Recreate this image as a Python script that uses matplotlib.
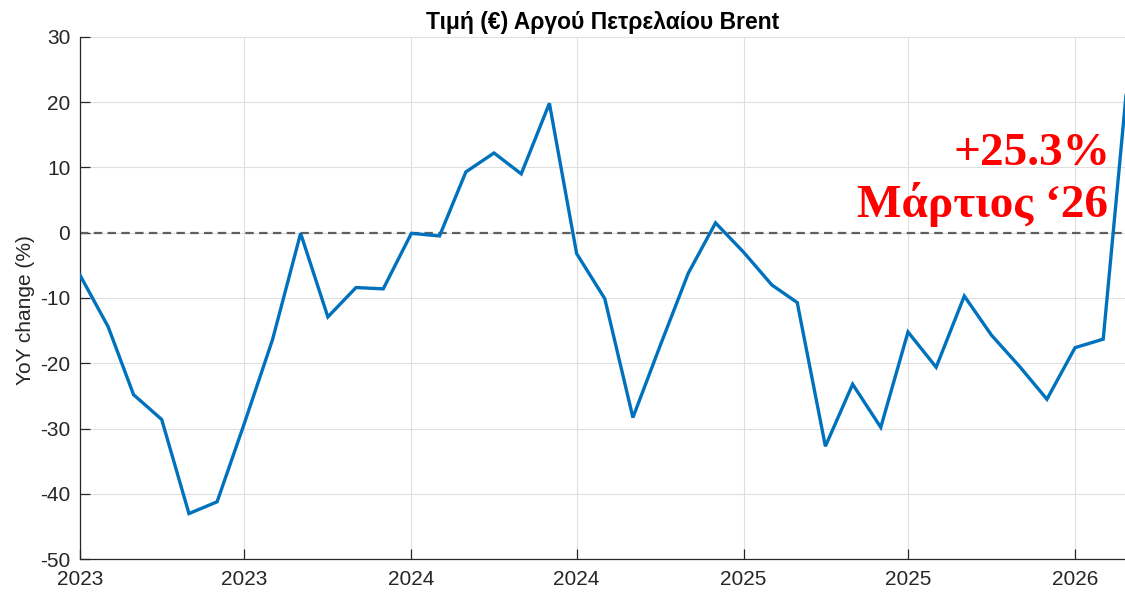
import matplotlib
matplotlib.use("Agg")
import matplotlib.pyplot as plt
import matplotlib.dates as mdates
import pandas as pd
import numpy as np

# ---- data ----
months = pd.date_range("2023-01-01", "2026-03-01", freq="MS")
yoy = [
    -6.5, -14.4, -24.8, -28.6, -43.0, -41.2, -29.2, -16.4, -0.1, -12.9, -8.4, -8.6,   # 2023
    -0.1, -0.5, 9.3, 12.2, 9.0, 19.8, -3.2, -10.1, -28.3, -17.3, -6.2, 1.5,          # 2024
    -3.0, -8.0, -10.7, -32.7, -23.2, -29.8, -15.2, -20.6, -9.7, -15.7, -20.5, -25.5, # 2025
    -17.6, -16.3, 25.3,                                                               # 2026
]
title = "Τιμή (€) Αργού Πετρελαίου Brent"
ylabel = "YoY change (%)"
note_value = "+25.3%"
note_month = "Μάρτιος \u201826"
yticks = list(range(-50, 31, 10))
xticks = pd.to_datetime(["2023-01-01", "2023-07-01", "2024-01-01", "2024-07-01",
                         "2025-01-01", "2025-07-01", "2026-01-01"])

plt.rcParams["font.family"] = ["Liberation Sans", "DejaVu Sans"]
plt.rcParams["axes.unicode_minus"] = False

fig = plt.figure(figsize=(11.25, 5.93), dpi=100)
ax = fig.add_axes([80 / 1125, (593 - 559.3) / 593, 1045 / 1125, 522.6 / 593])

txt = "#262626"
ax.axhline(0, color="#5f5f5f", lw=1.6, dashes=[3.8, 2.4], zorder=2)
ax.plot(months, yoy, color="#0072BD", lw=2.4, zorder=3, solid_joinstyle="miter")

ax.set_xlim(pd.Timestamp("2023-01-01"), pd.Timestamp("2026-02-25"))
ax.set_ylim(-50, 30)
ax.set_yticks(yticks)
ax.set_xticks(xticks)
ax.xaxis.set_major_formatter(mdates.DateFormatter("%Y"))

ax.grid(True, color="#dfdfdf", lw=0.8, zorder=0)
ax.set_axisbelow(True)
for s in ["top", "right"]:
    ax.spines[s].set_visible(False)
for s in ["left", "bottom"]:
    ax.spines[s].set_color(txt)
    ax.spines[s].set_linewidth(0.9)
ax.tick_params(axis="both", direction="in", length=7, width=0.9, color=txt,
               labelcolor=txt, labelsize=15)
ax.tick_params(axis="y", pad=7)
ax.tick_params(axis="x", pad=8)

ax.set_ylabel(ylabel, fontsize=15, color=txt)
ax.yaxis.set_label_coords(-0.043, 0.477)
ax.set_title(title, fontsize=16.5, fontweight="bold", color="black", pad=5.5)

serif = ["Liberation Serif", "DejaVu Serif"]
ax.text(0.986, 0.7545, note_value, transform=ax.transAxes, ha="right", va="baseline",
        fontsize=34, fontweight="bold", color="#ff0000", family=serif)
ax.text(0.9837, 0.655, note_month, transform=ax.transAxes, ha="right", va="baseline",
        fontsize=34, fontweight="bold", color="#ff0000", family=serif)

fig.savefig("out.png", dpi=100)
